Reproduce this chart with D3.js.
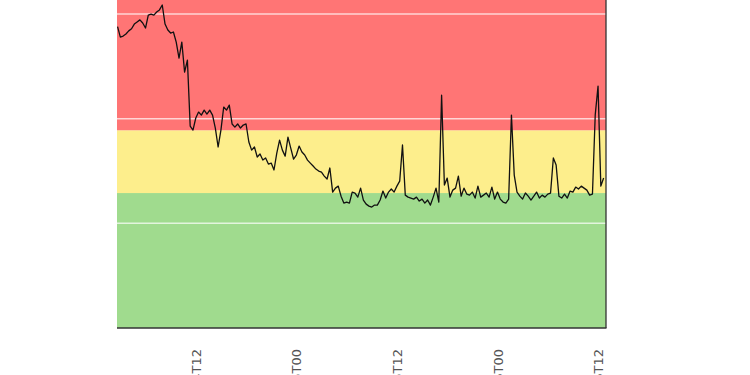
<!DOCTYPE html>
<html>
<head>
<meta charset="utf-8">
<script src="https://cdn.jsdelivr.net/npm/d3@7"></script>
<style>
  body { margin: 0; background: #fff; }
  .tick text { font-family: "DejaVu Sans", sans-serif; font-size: 13px; fill: #555; }
</style>
</head>
<body>
<div id="chart"></div>
<script>
// readings every 20 minutes, first one at 02:40
var firstReading = new Date(2019, 4, 14, 2, 40);
var stepMinutes = 20;
var readings = [
  28.8, 27.8, 27.9, 28.1, 28.4, 28.6, 29.05, 29.25, 29.45, 29.15,
  28.67, 29.9, 30.0, 29.9, 30.2, 30.4, 30.87, 29.05, 28.48, 28.19,
  28.29, 27.33, 25.8, 27.33, 24.46, 25.61, 19.3, 18.92, 20.07, 20.64,
  20.35, 20.83, 20.45, 20.83, 20.35, 19.11, 17.3, 18.92, 21.12, 20.83,
  21.3, 19.5, 19.2, 19.5, 19.11, 19.4, 19.5, 17.78, 17.0, 17.3,
  16.34, 16.63, 16.05, 16.25, 15.67, 15.76, 15.1, 16.72, 17.96, 17.0,
  16.43, 18.25, 17.2, 16.15, 16.53, 17.39, 16.82, 16.53, 16.05, 15.76,
  15.48, 15.19, 15.0, 14.9, 14.52, 14.24, 15.29, 12.99, 13.37, 13.56,
  12.6, 11.94, 12.04, 11.94, 12.99, 12.9, 12.51, 13.37, 12.23, 11.84,
  11.65, 11.56, 11.75, 11.75, 12.23, 13.09, 12.42, 12.99, 13.28, 12.99,
  13.56, 14.04, 17.49, 12.7, 12.51, 12.42, 12.32, 12.51, 12.13, 12.32,
  11.94, 12.23, 11.75, 12.51, 13.37, 12.04, 22.25, 13.66, 14.33, 12.51,
  13.18, 13.37, 14.52, 12.6, 13.37, 12.8, 12.7, 12.99, 12.42, 13.56,
  12.51, 12.7, 12.9, 12.51, 13.47, 12.32, 12.99, 12.32, 12.04, 11.94,
  12.32, 20.35, 14.62, 12.99, 12.6, 12.32, 12.9, 12.6, 12.23, 12.6,
  12.99, 12.42, 12.7, 12.51, 12.8, 12.9, 16.25, 15.57, 12.6, 12.42,
  12.8, 12.42, 13.09, 12.99, 13.47, 13.28, 13.56, 13.37, 13.18, 12.7,
  12.8, 20.4, 23.12, 13.56, 14.33
];

// colour bands (lower, upper)
var bandLimits = [[0, 12.9], [12.9, 18.9], [18.9, 40]];
var bandColors = ["#a0db8e", "#fdee8c", "#ff7575"];
var gridValues = [10, 20, 30];

var tickTimes = [
  new Date(2019, 4, 14, 12), new Date(2019, 4, 15, 0), new Date(2019, 4, 15, 12),
  new Date(2019, 4, 16, 0), new Date(2019, 4, 16, 12)
];

var width = 750, height = 375;
var margin = {left: 117, right: 144, top: 0, bottom: 47};
var plotW = width - margin.left - margin.right;
var plotH = height - margin.top - margin.bottom;

var svg = d3.select("#chart").append("svg")
  .attr("width", width).attr("height", height);

var g = svg.append("g").attr("transform", "translate(" + margin.left + "," + margin.top + ")");

var x = d3.scaleTime()
  .domain([new Date(2019, 4, 14, 2, 36), new Date(2019, 4, 16, 12, 57)])
  .range([0, plotW]);
var y = d3.scaleLinear().domain([0, 31.35]).range([plotH, 0]);

// background bands
g.selectAll("rect.band").data(bandLimits).enter().append("rect")
  .attr("class", "band")
  .attr("x", 0)
  .attr("width", plotW)
  .attr("y", function(d){ return Math.max(0, y(d[1])); })
  .attr("height", function(d){ return y(d[0]) - Math.max(0, y(d[1])); })
  .attr("fill", function(d, i){ return bandColors[i]; });

// white grid lines
g.selectAll("line.grid").data(gridValues).enter().append("line")
  .attr("class", "grid")
  .attr("x1", 0).attr("x2", plotW)
  .attr("y1", function(d){ return y(d); })
  .attr("y2", function(d){ return y(d); })
  .attr("stroke", "#fff")
  .attr("stroke-opacity", 0.7)
  .attr("stroke-width", 1.5);

var line = d3.line()
  .x(function(d, i){ return x(new Date(firstReading.getTime() + i * stepMinutes * 60000)); })
  .y(function(d){ return y(d); });

g.append("path")
  .datum(readings)
  .attr("d", line)
  .attr("fill", "none")
  .attr("stroke", "#111")
  .attr("stroke-width", 1.3)
  .attr("stroke-linejoin", "round");

// frame: bottom and right only
g.append("line").attr("x1", 0).attr("x2", plotW + 0.5).attr("y1", plotH).attr("y2", plotH)
  .attr("stroke", "#333").attr("stroke-width", 1.3);
g.append("line").attr("x1", plotW).attr("x2", plotW).attr("y1", 0).attr("y2", plotH)
  .attr("stroke", "#333").attr("stroke-width", 1.3);

var xAxis = d3.axisBottom(x)
  .tickValues(tickTimes)
  .tickSize(0)
  .tickFormat(d3.timeFormat("%Y-%m-%dT%H"));

var ax = g.append("g")
  .attr("transform", "translate(0," + plotH + ")")
  .call(xAxis);
ax.select(".domain").remove();
ax.selectAll("text")
  .attr("transform", "rotate(-90)")
  .attr("text-anchor", "end")
  .attr("x", -21)
  .attr("y", 0)
  .attr("dy", "0.35em");
</script>
</body>
</html>
